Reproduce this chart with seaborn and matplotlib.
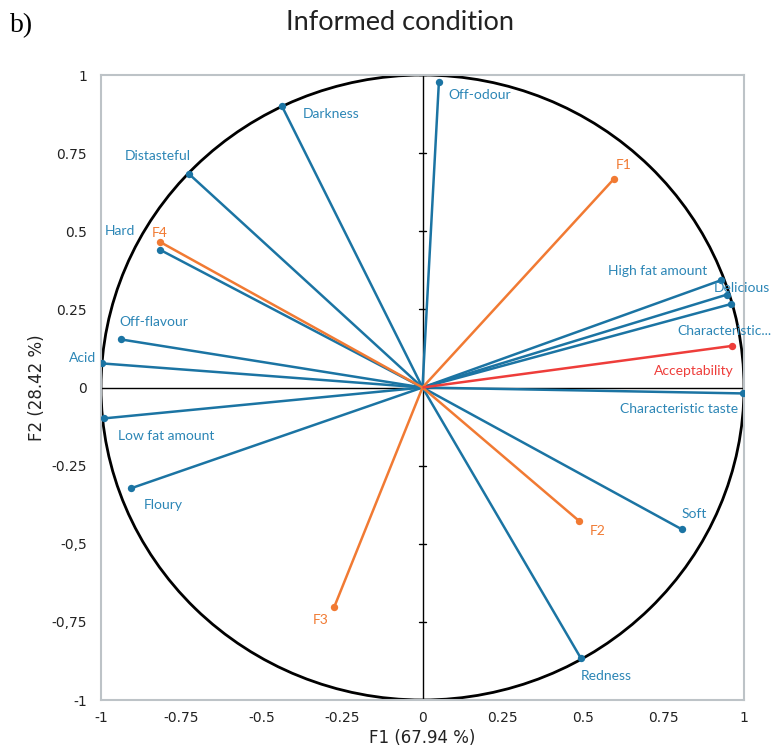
import matplotlib
matplotlib.use("Agg")
import matplotlib.pyplot as plt
from matplotlib.patches import Circle
import numpy as np
import pandas as pd
import seaborn as sns

# ---- data ----
variables = ["Off-odour", "Darkness", "Distasteful", "Hard", "Off-flavour", "Acid",
             "Low fat amount", "Floury", "High fat amount", "Delicious",
             "Characteristic...", "Characteristic taste", "Soft", "Redness"]
var_f1 = [0.051, -0.437, -0.726, -0.817, -0.939, -0.996, -0.992, -0.908,
          0.928, 0.946, 0.959, 0.998, 0.807, 0.493]
var_f2 = [0.978, 0.900, 0.683, 0.441, 0.154, 0.077, -0.099, -0.323,
          0.343, 0.297, 0.267, -0.019, -0.454, -0.867]

factors = ["F1", "F2", "F3", "F4"]
fac_f1 = [0.595, 0.487, -0.274, -0.815]
fac_f2 = [0.667, -0.427, -0.701, 0.465]

target = ["Acceptability"]
tgt_f1 = [0.962]
tgt_f2 = [0.133]

x_ticks = [-1, -0.75, -0.5, -0.25, 0, 0.25, 0.5, 0.75, 1]
x_ticklabels = ["-1", "-0.75", "-0.5", "-0.25", "0", "0.25", "0.5", "0.75", "1"]
y_ticks = [-1, -0.75, -0.5, -0.25, 0, 0.25, 0.5, 0.75, 1]
y_ticklabels = ["-1", "-0,75", "-0,5", "-0.25", "0", "0.25", "0.5", "0.75", "1"]

# label offsets (pixels) - layout only
var_offsets = {"Off-odour": (9, -13), "Darkness": (21, -8), "Distasteful": (-64, 18),
               "Hard": (-55, 19), "Off-flavour": (-1, 17), "Acid": (-33, 5),
               "Low fat amount": (14, -18), "Floury": (13, -17),
               "High fat amount": (-113, 9), "Delicious": (-13, 7),
               "Characteristic...": (-53, -27), "Characteristic taste": (-123, -16),
               "Soft": (0, 15), "Redness": (0, -18)}
fac_offsets = {"F1": (2, 14), "F2": (11, -10), "F3": (-22, -13), "F4": (-9, 9)}
tgt_offsets = {"Acceptability": (-78, -25)}

BLUE = "#1B74A3"
BLUE_TXT = "#2C86B6"
ORANGE = "#F17A33"
RED = "#EE3D3A"

sns.set_style("white")
plt.rcParams["font.family"] = ["Lato", "DejaVu Sans"]

fig = plt.figure(figsize=(7.73, 7.54), dpi=100)
ax = fig.add_axes([101 / 773, 1 - 700 / 754, 643 / 773, 625 / 754])

df_var = pd.DataFrame({"F1": var_f1, "F2": var_f2, "name": variables})
df_fac = pd.DataFrame({"F1": fac_f1, "F2": fac_f2, "name": factors})
df_tgt = pd.DataFrame({"F1": tgt_f1, "F2": tgt_f2, "name": target})

# center axes
ax.axhline(0, color="black", lw=1.0, zorder=1)
ax.axvline(0, color="black", lw=1.0, zorder=1)
for t in y_ticks:
    ax.plot([-0.012, 0.012], [t, t], color="black", lw=1.0, zorder=1)

# circle
ax.add_patch(Circle((0, 0), 1.0, fill=False, ec="black", lw=2.0, zorder=2))

def draw(df, color, txtcolor, offsets, lw=1.8):
    for _, r in df.iterrows():
        ax.plot([0, r["F1"]], [0, r["F2"]], color=color, lw=lw, zorder=3,
                solid_capstyle="butt")
    sns.scatterplot(data=df, x="F1", y="F2", color=color, s=28, edgecolor=color,
                    linewidth=0, ax=ax, zorder=4, legend=False)
    for _, r in df.iterrows():
        ax.annotate(r["name"], (r["F1"], r["F2"]), xytext=offsets[r["name"]],
                    textcoords="offset pixels", ha="left", va="center",
                    color=txtcolor, fontsize=10, zorder=5)

draw(df_var, BLUE, BLUE_TXT, var_offsets)
draw(df_fac, ORANGE, ORANGE, fac_offsets)
draw(df_tgt, RED, RED, tgt_offsets)

ax.set_xlim(-1, 1)
ax.set_ylim(-1, 1)
ax.set_xticks(x_ticks)
ax.set_xticklabels(x_ticklabels)
ax.set_yticks(y_ticks)
ax.set_yticklabels(y_ticklabels)
for lab in ax.get_xticklabels() + ax.get_yticklabels():
    lab.set_fontfamily("Liberation Sans Narrow")
    lab.set_fontsize(10)
    lab.set_color("#222222")
ax.tick_params(axis="y", length=0, pad=10)
ax.tick_params(axis="x", length=0, pad=8)

for s in ax.spines.values():
    s.set_visible(True)
    s.set_color("#BDC3C7")
    s.set_linewidth(1.5)

ax.set_xlabel("F1 (67.94 %)", fontsize=12, family="Liberation Sans Narrow",
              color="#222222", labelpad=3)
ax.set_ylabel("F2 (28.42 %)", fontsize=12, family="Liberation Sans Narrow",
              color="#222222", labelpad=4)

fig.text(400 / 773, 1 - 22 / 754, "Informed condition", ha="center", va="center",
         fontsize=19.5, family=["Lato", "DejaVu Sans"], color="#222222")
fig.text(10 / 773, 1 - 26 / 754, "b)", ha="left", va="center",
         fontsize=20, family="Liberation Serif", color="black")

fig.savefig("out.png", dpi=100)
